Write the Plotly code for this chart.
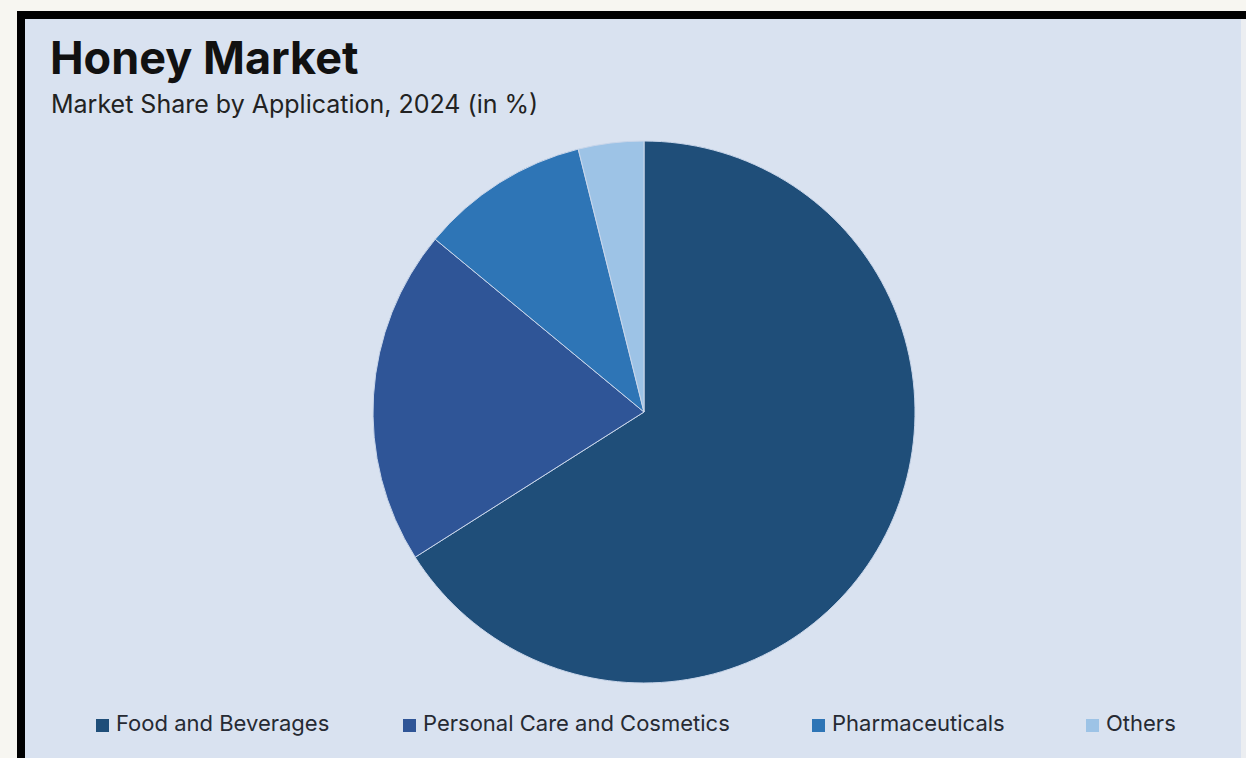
import plotly.graph_objects as go

# Market share by application, 2024 (%)
applications = ["Food and Beverages", "Personal Care and Cosmetics", "Pharmaceuticals", "Others"]
shares = [66.0, 20.0, 10.1, 3.9]
slice_colors = ["#1f4e79", "#2f5597", "#2e75b6", "#9dc3e6"]

W, H = 1246, 758
PANEL = "#d9e2f0"
FONT = "Inter"


def px(x):
    return x / W


def py(y):
    return 1 - y / H


fig = go.Figure(
    go.Pie(
        labels=applications,
        values=shares,
        sort=False,
        direction="clockwise",
        rotation=0,
        marker=dict(colors=slice_colors, line=dict(color="#c9d6ea", width=1)),
        textinfo="none",
        hoverinfo="label+percent",
        domain=dict(x=[px(373), px(915)], y=[py(683), py(141)]),
        showlegend=False,
    )
)

shapes = [
    # light blue card
    dict(type="rect", xref="paper", yref="paper", x0=px(24), x1=px(1241), y0=0, y1=py(18),
         fillcolor=PANEL, line=dict(width=0), layer="below"),
    # pale strip along the right edge
    dict(type="rect", xref="paper", yref="paper", x0=px(1241), x1=1, y0=0, y1=py(18),
         fillcolor="#eceef1", line=dict(width=0), layer="below"),
    # dark frame: top bar and left bar
    dict(type="rect", xref="paper", yref="paper", x0=px(17), x1=1, y0=py(19), y1=py(11),
         fillcolor="#000000", line=dict(width=0), layer="below"),
    dict(type="rect", xref="paper", yref="paper", x0=px(17), x1=px(25), y0=0, y1=py(11),
         fillcolor="#000000", line=dict(width=0), layer="below"),
]

annotations = [
    dict(text="<b>Honey Market</b>", x=px(48), y=py(58), xref="paper", yref="paper",
         xanchor="left", yanchor="middle", showarrow=False,
         font=dict(family=FONT, size=45, color="#111111")),
    dict(text="Market Share by Application, 2024 (in %)", x=px(49), y=py(104), xref="paper",
         yref="paper", xanchor="left", yanchor="middle", showarrow=False,
         font=dict(family=FONT, size=25, color="#222222")),
]

# legend row: a colour key square and its label for each application
key_x = [96, 403, 812, 1086]
for name, color, kx in zip(applications, slice_colors, key_x):
    shapes.append(dict(type="rect", xref="paper", yref="paper", x0=px(kx), x1=px(kx + 13),
                       y0=py(732), y1=py(719), fillcolor=color, line=dict(width=0)))
    annotations.append(dict(text=name, x=px(kx + 18), y=py(723), xref="paper", yref="paper",
                            xanchor="left", yanchor="middle", showarrow=False,
                            font=dict(family=FONT, size=22, color="#262a33")))

fig.update_layout(
    width=W,
    height=H,
    margin=dict(l=0, r=0, t=0, b=0),
    paper_bgcolor="#f7f6f1",
    plot_bgcolor="#f7f6f1",
    shapes=shapes,
    annotations=annotations,
)

fig.write_html("out.html")
